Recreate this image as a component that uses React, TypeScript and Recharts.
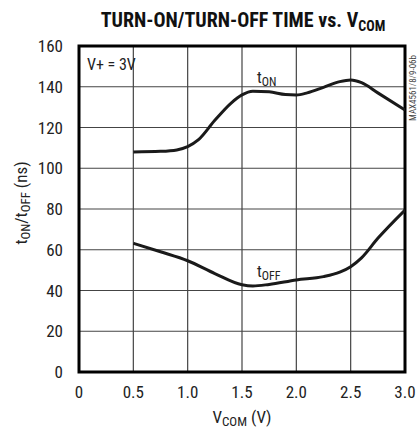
import React from 'react';
import { LineChart, Line, XAxis, YAxis, CartesianGrid, ReferenceArea } from 'recharts';

const xTicks = [0, 0.5, 1.0, 1.5, 2.0, 2.5, 3.0];
const yTicks = [0, 20, 40, 60, 80, 100, 120, 140, 160];

const tOnX = [0.5, 0.75, 0.9, 1.0, 1.1, 1.25, 1.4, 1.5, 1.6, 1.75, 1.9, 2.0, 2.1, 2.25, 2.4, 2.5, 2.6, 2.75, 3.0];
const tOnY = [108, 108.3, 109, 110.6, 114, 123.5, 132, 136, 137.8, 137.5, 136.2, 136, 137, 139.7, 142.5, 143.3, 142, 137, 128.6];

const tOffX = [0.5, 0.75, 1.0, 1.25, 1.5, 1.6, 1.75, 2.0, 2.25, 2.4, 2.5, 2.6, 2.75, 3.0];
const tOffY = [63.2, 59, 54.6, 48.3, 42.8, 42.2, 43, 45.2, 46.8, 49, 51.7, 56, 65.6, 79.5];

const tOn = tOnX.map((x, i) => ({ x, y: tOnY[i] }));
const tOff = tOffX.map((x, i) => ({ x, y: tOffY[i] }));

const FONT = '"Liberation Sans Narrow", "Roboto Condensed", "DejaVu Sans Condensed", Arial, sans-serif';

const fmtX = (v: number) => (v === 0 ? '0' : v.toFixed(1));

export default function App() {
  return (
    <div style={{ position: 'absolute', left: 0, top: 0, width: 418, height: 432, background: '#fff' }}>
      <LineChart width={418} height={432} margin={{ top: 46, right: 13, bottom: 0, left: 0 }}>
        <CartesianGrid stroke="#444" strokeWidth={1.2} />
        <XAxis
          type="number"
          dataKey="x"
          domain={[0, 3]}
          ticks={xTicks}
          tickFormatter={fmtX}
          height={60}
          tickLine={false}
          axisLine={false}
          tickSize={0}
          tickMargin={14}
          tick={{ fill: '#222', fontSize: 17, fontFamily: FONT }}
          allowDataOverflow
        />
        <YAxis
          type="number"
          domain={[0, 160]}
          ticks={yTicks}
          width={79}
          tickLine={false}
          axisLine={false}
          tickSize={0}
          tickMargin={16}
          tick={{ fill: '#222', fontSize: 17, fontFamily: FONT }}
        />
        <ReferenceArea x1={0} x2={3} y1={0} y2={160} fill="none" fillOpacity={0} stroke="#000" strokeWidth={3} />
        <Line data={tOn} dataKey="y" type="monotone" stroke="#1a1a1a" strokeWidth={3} dot={false} isAnimationActive={false} />
        <Line data={tOff} dataKey="y" type="monotone" stroke="#1a1a1a" strokeWidth={3} dot={false} isAnimationActive={false} />
      </LineChart>
      <svg width={418} height={432} style={{ position: 'absolute', left: 0, top: 0, pointerEvents: 'none' }}>
        <text x={243} y={27} textAnchor="middle" fontFamily={FONT} fontWeight="bold" fontSize={20} fill="#111">
          TURN-ON/TURN-OFF TIME vs. V<tspan fontSize={14} dy={4}>COM</tspan>
        </text>
        <text x={87} y={70} fontFamily={FONT} fontSize={16} fill="#222">V+ = 3V</text>
        <text x={257} y={83} fontFamily={FONT} fontSize={16} fill="#222">
          t<tspan fontSize={12} dy={3}>ON</tspan>
        </text>
        <text x={257} y={277} fontFamily={FONT} fontSize={16} fill="#222">
          t<tspan fontSize={12} dy={3}>OFF</tspan>
        </text>
        <text x={242} y={423} textAnchor="middle" fontFamily={FONT} fontSize={17} fill="#222">
          V<tspan fontSize={13} dy={3}>COM</tspan><tspan dy={-3}> (V)</tspan>
        </text>
        <text transform="translate(27,203) rotate(-90)" textAnchor="middle" fontFamily={FONT} fontSize={17} fill="#222">
          t<tspan fontSize={13} dy={3}>ON</tspan><tspan dy={-3}>/t</tspan><tspan fontSize={13} dy={3}>OFF</tspan><tspan dy={-3}> (ns)</tspan>
        </text>
        <text transform="translate(416,88) rotate(-90)" textAnchor="middle" fontFamily={FONT} fontSize={9} fill="#444">
          MAX4561/8/9-06b
        </text>
      </svg>
    </div>
  );
}
